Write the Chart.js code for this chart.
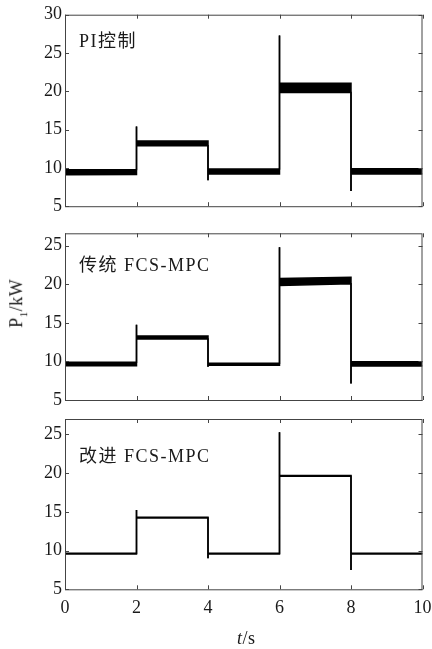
<!DOCTYPE html>
<html>
<head>
<meta charset="utf-8">
<script src="https://cdn.jsdelivr.net/npm/chart.js@4.4.0/dist/chart.umd.min.js"></script>
<style>
  body { margin: 0; background: #fff; }
  #wrap { position: relative; width: 432px; height: 649px; font-family: "Liberation Serif", "Noto Sans CJK SC", serif; color: #1a1a1a; }
  .pane { position: absolute; left: 0; width: 432px; }
  .lbl { position: absolute; font-size: 18px; white-space: nowrap; letter-spacing: 1.5px; }
</style>
</head>
<body>
<div id="wrap">
  <div class="pane" style="top:0;height:220px"><canvas id="c1"></canvas></div>
  <div class="pane" style="top:215px;height:200px"><canvas id="c2"></canvas></div>
  <div class="pane" style="top:405px;height:244px"><canvas id="c3"></canvas></div>

  <div class="lbl" style="left:79px;top:26px">PI控制</div>
  <div class="lbl" style="left:79px;top:250px">传统 FCS-MPC</div>
  <div class="lbl" style="left:79px;top:441px">改进 FCS-MPC</div>

  <div class="lbl" style="left:-7px;top:292px;transform:rotate(-90deg);letter-spacing:0.5px">P<sub style="font-size:11px">1</sub>/kW</div>
  <div class="lbl" style="left:237px;top:628px;letter-spacing:0.5px"><i>t</i>/s</div>
</div>

<script>
// time points: start transient, then each step (before, spike, after)
var tPts = [0, 0, 0, 2, 2, 2, 4, 4, 4, 6, 6, 6, 8, 8, 8, 10];

// PI control: upper / lower edge of the ripple band
var piHi = [9.9, 8.7, 9.75, 9.8, 15.4, 13.5, 13.5, 8.4, 9.85, 9.85, 27.3, 21.05, 21.05, 7.0, 9.9, 9.9];
var piLo = [9.9, 8.7, 9.1, 9.15, 15.4, 12.9, 12.9, 8.4, 9.2, 9.2, 27.3, 19.85, 19.85, 7.0, 9.2, 9.2];

// conventional FCS-MPC
var fcsHi = [13.5, 8.8, 9.9, 9.9, 14.75, 13.3, 13.3, 9.3, 9.75, 9.75, 24.8, 20.75, 20.9, 7.15, 9.95, 9.95];
var fcsLo = [13.5, 8.8, 9.45, 9.45, 14.75, 12.9, 12.9, 9.3, 9.5, 9.5, 24.8, 19.85, 20.05, 7.15, 9.4, 9.4];

// improved FCS-MPC
var impHi = [12.7, 9.1, 9.65, 9.65, 15.25, 14.3, 14.3, 9.0, 9.65, 9.65, 25.3, 19.7, 19.7, 7.5, 9.65, 9.65];
var impLo = [12.7, 9.1, 9.55, 9.55, 15.25, 14.2, 14.2, 9.0, 9.55, 9.55, 25.3, 19.6, 19.6, 7.5, 9.55, 9.55];

var xTicks = [0, 2, 4, 6, 8, 10];
var yTicksTop = [5, 10, 15, 20, 25, 30];
var yTicks = [5, 10, 15, 20, 25];

var tickFont = { family: "Liberation Serif", size: 18 };

function pts(ys) {
  return ys.map(function (v, i) { return { x: tPts[i], y: v }; });
}

// box round the plot with inward ticks on all four sides
var framePlugin = {
  id: 'frame',
  afterDatasetsDraw: function (chart) {
    var a = chart.chartArea, ctx = chart.ctx;
    var xs = chart.scales.x, ys = chart.scales.y;
    ctx.save();
    ctx.strokeStyle = '#444';
    ctx.lineWidth = 1;
    ctx.strokeRect(a.left + 0.5, a.top + 0.5, a.right - a.left - 1, a.bottom - a.top);
    ctx.beginPath();
    xs.ticks.forEach(function (t) {
      var p = Math.round(xs.getPixelForValue(t.value)) + 0.5;
      ctx.moveTo(p, a.bottom); ctx.lineTo(p, a.bottom - 4);
      ctx.moveTo(p, a.top); ctx.lineTo(p, a.top + 4);
    });
    ys.ticks.forEach(function (t) {
      var p = Math.round(ys.getPixelForValue(t.value)) + 0.5;
      ctx.moveTo(a.left, p); ctx.lineTo(a.left + 4, p);
      ctx.moveTo(a.right, p); ctx.lineTo(a.right - 4, p);
    });
    ctx.stroke();
    ctx.restore();
  }
};

function panel(id, hi, lo, ymax, yt, padTop, padBottom, showX) {
  new Chart(document.getElementById(id), {
    type: 'line',
    data: {
      datasets: [
        { data: pts(hi), borderColor: '#000', borderWidth: 1.5, pointRadius: 0, fill: false },
        { data: pts(lo), borderColor: '#000', borderWidth: 1.5, pointRadius: 0, fill: '-1', backgroundColor: '#000' }
      ]
    },
    options: {
      responsive: true,
      maintainAspectRatio: false,
      animation: false,
      layout: { padding: { top: padTop, bottom: padBottom, left: 0, right: 9.5 } },
      plugins: { legend: { display: false }, tooltip: { enabled: false } },
      scales: {
        x: {
          type: 'linear', min: 0, max: 10,
          afterBuildTicks: function (s) { s.ticks = xTicks.map(function (v) { return { value: v }; }); },
          afterFit: function (s) {
            s.height = showX ? 30 : 0;
            s.paddingLeft = 0;
            s.paddingRight = 0;
          },
          grid: { display: false, drawTicks: false },
          border: { display: false },
          ticks: { display: showX, color: '#1a1a1a', font: tickFont, padding: 8, maxRotation: 0 }
        },
        y: {
          min: 5, max: ymax,
          afterBuildTicks: function (s) { s.ticks = yt.map(function (v) { return { value: v }; }); },
          afterFit: function (s) { s.width = 65; },
          grid: { display: false, drawTicks: false },
          border: { display: false },
          ticks: { color: '#1a1a1a', font: tickFont, padding: 3 }
        }
      }
    },
    plugins: [framePlugin]
  });
}

panel('c1', piHi, piLo, 30, yTicksTop, 14.7, 13, false);
panel('c2', fcsHi, fcsLo, 26.6, yTicks, 18.3, 15, false);
panel('c3', impHi, impLo, 27, yTicks, 14, 29.7, true);
</script>
</body>
</html>
